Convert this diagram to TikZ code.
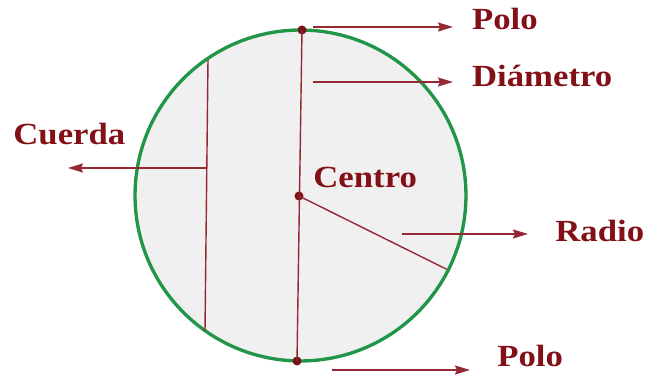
\documentclass[tikz,border=0pt]{standalone}
\usepackage{fontspec}
\setmainfont{Liberation Serif}
\newfontfamily\lblfont[FakeStretch=1.13]{Liberation Serif}
\usetikzlibrary{arrows.meta}

\definecolor{ringgreen}{RGB}{34,150,72}
\definecolor{discgray}{RGB}{240,240,240}
\definecolor{linered}{RGB}{150,40,52}
\definecolor{dotred}{RGB}{120,18,24}
\definecolor{textred}{RGB}{130,16,22}

\begin{document}
\begin{tikzpicture}[
  x=0.02cm, y=-0.02cm,
  rim/.style={draw=ringgreen, line width=1.9pt, fill=discgray},
  segment/.style={draw=linered, line width=0.8pt},
  pointer/.style={draw=linered, line width=0.9pt, -{Stealth[length=3mm, width=1.8mm, inset=0.4mm]}},
  tag/.style={anchor=base west, inner sep=0pt, text=textred, font=\lblfont\bfseries\fontsize{17.5}{20}\selectfont},
  dot/.style={circle, fill=dotred, inner sep=0pt, minimum size=0.18cm}
]
  \useasboundingbox (0,0) rectangle (647,381);

  % disc
  \coordinate (c) at (300.5,195.5);
  \draw[rim] (c) circle[radius=3.31cm];

  % points on the circle
  \node[dot] (ptop) at (302,30) {};
  \node[dot] (pbot) at (297,361) {};
  \node[dot] (ctr) at (299,196) {};
  \coordinate (rend) at (446.7,269.3);
  \coordinate (chtop) at (208,60);
  \coordinate (chbot) at (205,331);

  % segments
  \draw[segment] (chtop) -- (chbot);
  \draw[segment] (ptop.center) -- (pbot.center);
  \draw[segment] (ctr.center) -- (rend);

  % labels
  \node[tag] (polotop) at (471.7,30) {Polo};
  \node[tag] (diam) at (471.7,87) {Diámetro};
  \node[tag] (cuerda) at (13,145) {Cuerda};
  \node[tag] (centro) at (313,188) {Centro};
  \node[tag] (radio) at (555,242) {Radio};
  \node[tag] (polobot) at (497,367) {Polo};

  % pointers
  \coordinate (a1) at (313,27);  \coordinate (b1) at (453,27);
  \coordinate (a2) at (313,82);  \coordinate (b2) at (453,82);
  \coordinate (a3) at (206,168); \coordinate (b3) at (68,168);
  \coordinate (a4) at (402,234); \coordinate (b4) at (528,234);
  \coordinate (a5) at (332,370); \coordinate (b5) at (470,370);
  \draw[pointer] (a1) -- (b1);
  \draw[pointer] (a2) -- (b2);
  \draw[pointer] (a3) -- (b3);
  \draw[pointer] (a4) -- (b4);
  \draw[pointer] (a5) -- (b5);
\end{tikzpicture}
\end{document}
